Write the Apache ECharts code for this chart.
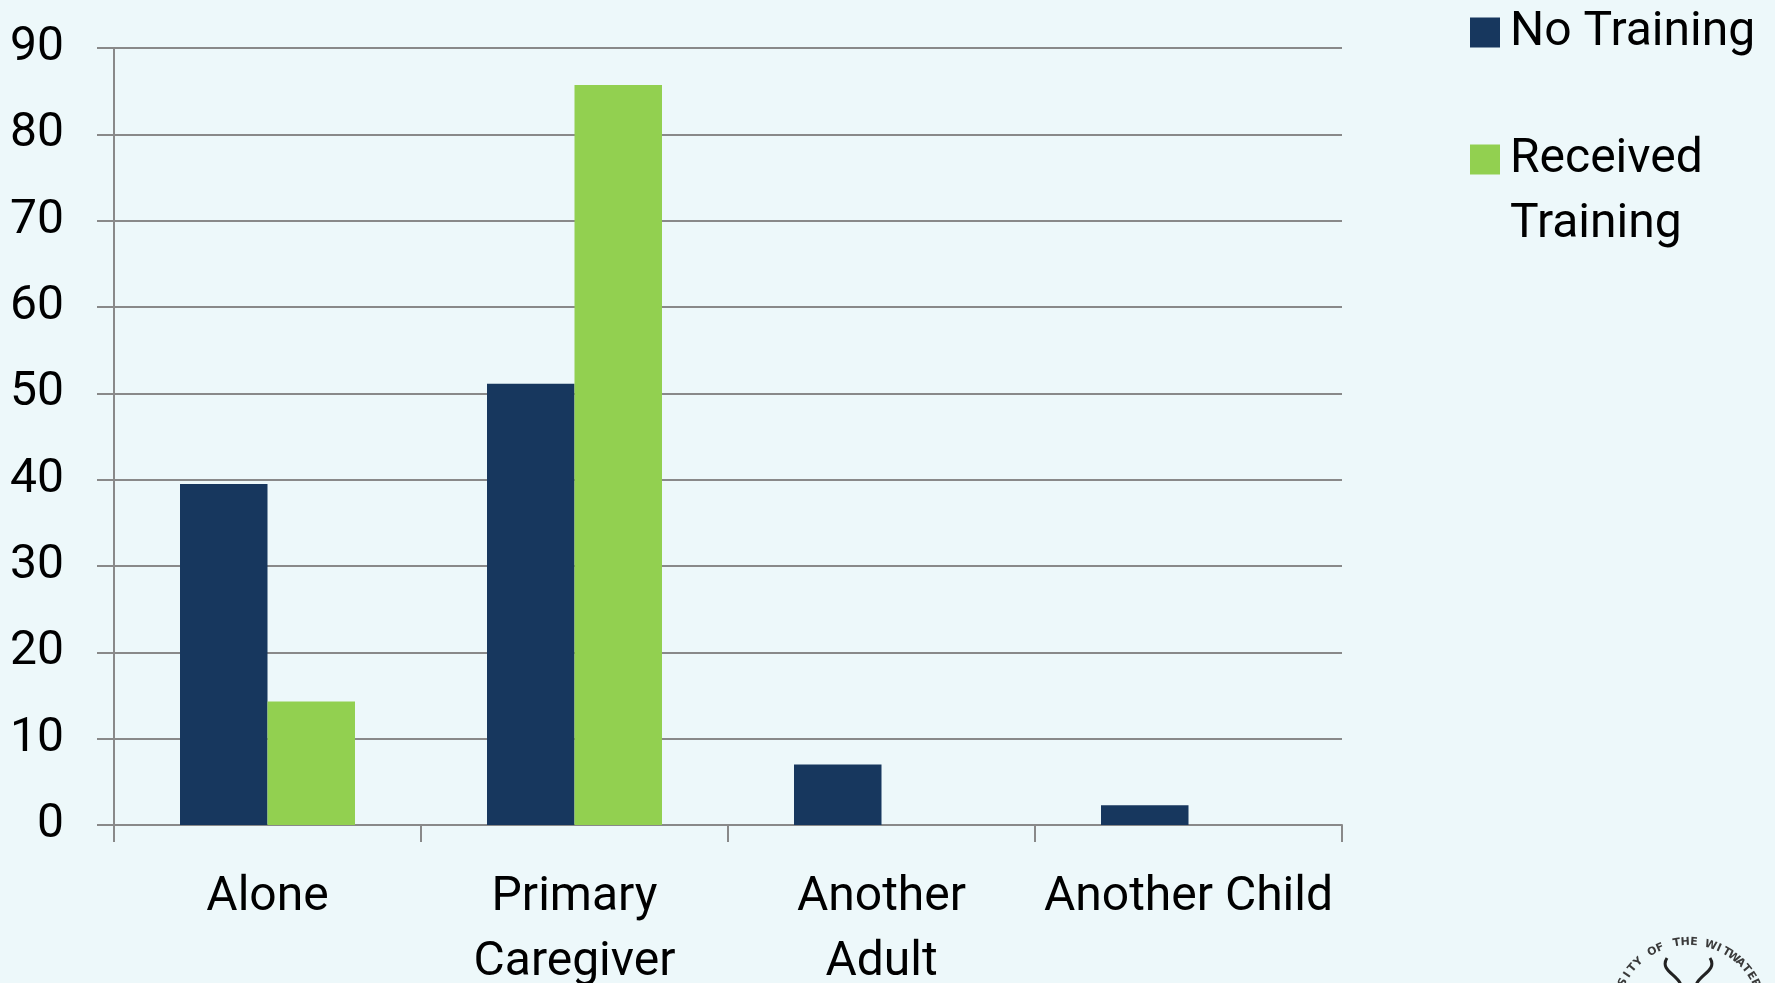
<!DOCTYPE html>
<html>
<head>
<meta charset="utf-8">
<script src="https://cdn.jsdelivr.net/npm/echarts@6/dist/echarts.min.js"></script>
<style>
  html, body { margin: 0; padding: 0; background: #EDF8FA; overflow: hidden; }
  #chart { width: 1775px; height: 983px; }
</style>
</head>
<body>
<div id="chart"></div>
<script>
const categories = ['Alone', 'Primary\nCaregiver', 'Another\nAdult', 'Another Child'];
const seriesNames = ['No Training', 'Received Training'];
const noTraining = [39.5, 51.1, 7.0, 2.3];
const receivedTraining = [14.3, 85.7, 0, 0];
const yTicks = { min: 0, max: 90, interval: 10 };

const FONT = 'Roboto';
const AXIS_GRAY = '#898989';

const chart = echarts.init(document.getElementById('chart'));

// decorative seal (partially visible, bottom-right corner)
const sealText = 'UNIVERSITY OF THE WITWATERSRAND';
const sealGraphics = [];
const cx = 1689, cy = 1016, r = 74;
const step = 6.68;
for (let i = 0; i < sealText.length; i++) {
  const ch = sealText[i];
  if (ch === ' ') continue;
  const deg = -89.6 + (i - 15.5) * step;
  const rad = deg * Math.PI / 180;
  sealGraphics.push({
    type: 'text',
    x: cx + r * Math.cos(rad),
    y: cy + r * Math.sin(rad),
    rotation: -(deg + 90) * Math.PI / 180,
    style: {
      text: ch, fill: '#3a3a3a', font: 'bold 11px "DejaVu Sans"',
      textAlign: 'center', textVerticalAlign: 'middle'
    },
    silent: true
  });
}
sealGraphics.push({
  type: 'bezierCurve', silent: true,
  shape: { x1: 1667, y1: 958, cpx1: 1658, cpy1: 972, cpx2: 1684, cpy2: 976, x2: 1681, y2: 990 },
  style: { stroke: '#222', lineWidth: 3, fill: null }
});
sealGraphics.push({
  type: 'bezierCurve', silent: true,
  shape: { x1: 1710, y1: 958, cpx1: 1719, cpy1: 972, cpx2: 1693, cpy2: 976, x2: 1696, y2: 990 },
  style: { stroke: '#222', lineWidth: 3, fill: null }
});

chart.setOption({
  backgroundColor: '#EDF8FA',
  animation: false,
  textStyle: { fontFamily: FONT },
  grid: {
    left: 114, right: 433, top: 48, bottom: 158,
    containLabel: false, outerBoundsMode: 'none'
  },
  legend: {
    orient: 'vertical',
    left: 1465,
    top: -5,
    itemWidth: 30,
    itemHeight: 30,
    itemGap: -3,
    icon: 'rect',
    selectedMode: false,
    formatter: function (name) {
      return name === 'Received Training' ? '\nReceived\nTraining' : name;
    },
    textStyle: { fontFamily: FONT, fontSize: 48, color: '#000', lineHeight: 65, padding: [0, 0, 0, 5] },
    data: seriesNames
  },
  xAxis: {
    type: 'category',
    data: categories,
    boundaryGap: true,
    axisLine: { show: true, lineStyle: { color: AXIS_GRAY, width: 2 } },
    axisTick: { show: true, length: 17, lineStyle: { color: AXIS_GRAY, width: 2 } },
    axisLabel: {
      interval: 0, margin: 40, color: '#000', fontFamily: FONT, fontSize: 48, lineHeight: 65
    },
    splitLine: { show: false }
  },
  yAxis: {
    type: 'value',
    min: yTicks.min, max: yTicks.max, interval: yTicks.interval,
    axisLine: { show: true, lineStyle: { color: AXIS_GRAY, width: 2 } },
    axisTick: { show: true, length: 17, lineStyle: { color: AXIS_GRAY, width: 2 } },
    axisLabel: { margin: 50, color: '#000', fontFamily: FONT, fontSize: 48 },
    splitLine: { show: true, lineStyle: { color: AXIS_GRAY, width: 2 } }
  },
  series: [
    {
      name: seriesNames[0], type: 'bar', data: noTraining,
      barGap: '0%', barCategoryGap: '43%',
      itemStyle: { color: '#17375E' }
    },
    {
      name: seriesNames[1], type: 'bar', data: receivedTraining,
      barGap: '0%', barCategoryGap: '43%',
      itemStyle: { color: '#92D050' }
    }
  ],
  graphic: sealGraphics
});
</script>
</body>
</html>
